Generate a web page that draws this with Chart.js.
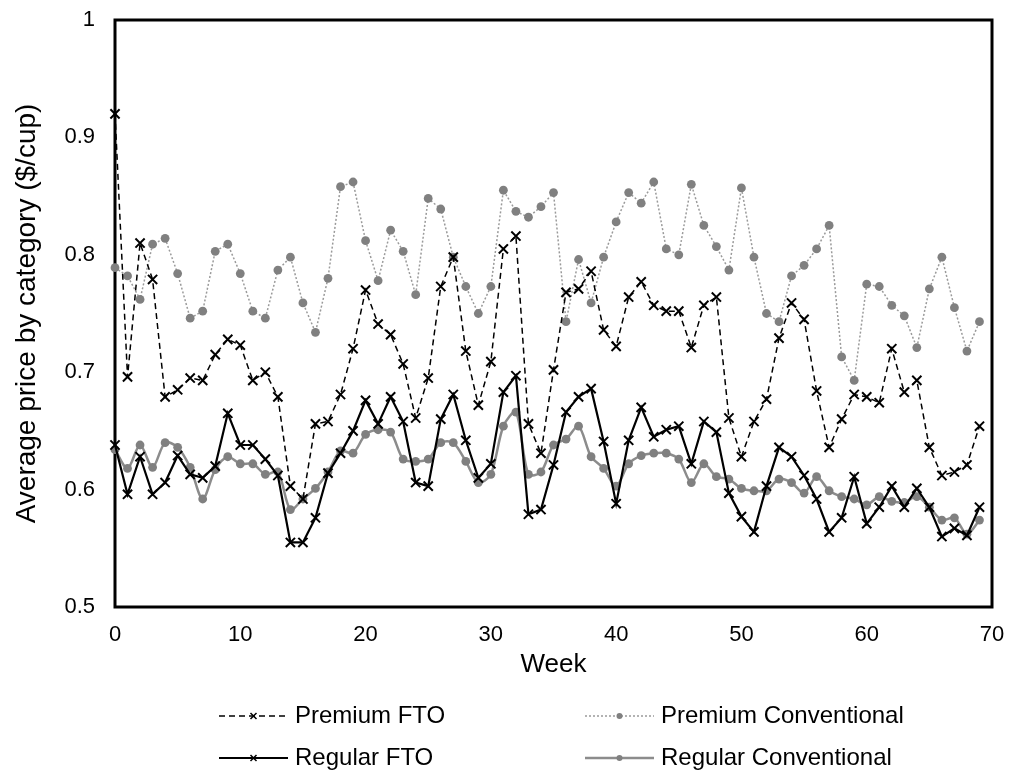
<!DOCTYPE html>
<html>
<head>
<meta charset="utf-8">
<script src="https://cdn.jsdelivr.net/npm/chart.js@4.4.1/dist/chart.umd.min.js"></script>
<style>
  body { margin: 0; background: #fff; }
</style>
</head>
<body>
<canvas id="priceChart" width="1011" height="770"></canvas>
<script>
// 週 (0〜69)
const weeks = [
    0, 1, 2, 3, 4, 5, 6, 7, 8, 9, 10, 11, 12, 13, 14, 15, 16, 17, 18, 19,
    20, 21, 22, 23, 24, 25, 26, 27, 28, 29, 30, 31, 32, 33, 34, 35, 36, 37, 38, 39,
    40, 41, 42, 43, 44, 45, 46, 47, 48, 49, 50, 51, 52, 53, 54, 55, 56, 57, 58, 59,
    60, 61, 62, 63, 64, 65, 66, 67, 68, 69
];

// 各カテゴリーの平均価格 ($/cup)
const premiumFTO = [
    0.920, 0.696, 0.810, 0.779, 0.679, 0.685, 0.695, 0.693, 0.715, 0.728,
    0.723, 0.693, 0.700, 0.679, 0.603, 0.592, 0.656, 0.658, 0.681, 0.720,
    0.770, 0.741, 0.732, 0.707, 0.661, 0.695, 0.773, 0.798, 0.718, 0.672,
    0.709, 0.805, 0.816, 0.656, 0.631, 0.702, 0.768, 0.771, 0.786, 0.736,
    0.722, 0.764, 0.777, 0.757, 0.752, 0.752, 0.721, 0.757, 0.764, 0.661,
    0.628, 0.658, 0.677, 0.729, 0.759, 0.745, 0.684, 0.636, 0.660, 0.681,
    0.679, 0.674, 0.720, 0.683, 0.693, 0.636, 0.612, 0.615, 0.621, 0.654
];
const premiumConventional = [
    0.789, 0.782, 0.762, 0.809, 0.814, 0.784, 0.746, 0.752, 0.803, 0.809,
    0.784, 0.752, 0.746, 0.787, 0.798, 0.759, 0.734, 0.780, 0.858, 0.862,
    0.812, 0.778, 0.821, 0.803, 0.766, 0.848, 0.839, 0.798, 0.773, 0.750,
    0.773, 0.855, 0.837, 0.832, 0.841, 0.853, 0.743, 0.796, 0.759, 0.798,
    0.828, 0.853, 0.844, 0.862, 0.805, 0.800, 0.860, 0.825, 0.807, 0.787,
    0.857, 0.798, 0.750, 0.743, 0.782, 0.791, 0.805, 0.825, 0.713, 0.693,
    0.775, 0.773, 0.757, 0.748, 0.721, 0.771, 0.798, 0.755, 0.718, 0.743
];
const regularFTO = [
    0.638, 0.596, 0.628, 0.596, 0.606, 0.629, 0.613, 0.610, 0.620, 0.665,
    0.638, 0.638, 0.626, 0.612, 0.555, 0.555, 0.576, 0.614, 0.631, 0.650,
    0.676, 0.656, 0.679, 0.658, 0.606, 0.603, 0.660, 0.681, 0.642, 0.610,
    0.622, 0.683, 0.697, 0.579, 0.583, 0.621, 0.666, 0.679, 0.686, 0.641,
    0.588, 0.642, 0.670, 0.645, 0.651, 0.654, 0.622, 0.658, 0.649, 0.597,
    0.577, 0.564, 0.603, 0.636, 0.628, 0.612, 0.592, 0.564, 0.576, 0.611,
    0.571, 0.585, 0.603, 0.585, 0.601, 0.585, 0.560, 0.567, 0.561, 0.585
];
const regularConventional = [
    0.634, 0.618, 0.638, 0.619, 0.640, 0.636, 0.619, 0.592, 0.617, 0.628,
    0.622, 0.622, 0.613, 0.615, 0.583, 0.592, 0.601, 0.615, 0.633, 0.631,
    0.647, 0.651, 0.649, 0.626, 0.624, 0.626, 0.640, 0.640, 0.624, 0.606,
    0.613, 0.654, 0.666, 0.613, 0.615, 0.638, 0.643, 0.654, 0.628, 0.618,
    0.603, 0.622, 0.629, 0.631, 0.631, 0.626, 0.606, 0.622, 0.611, 0.609,
    0.601, 0.599, 0.599, 0.609, 0.606, 0.597, 0.611, 0.599, 0.594, 0.592,
    0.587, 0.594, 0.590, 0.589, 0.594, 0.585, 0.574, 0.576, 0.562, 0.574
];

// 軸の設定
const xMin = 0, xMax = 70, xStep = 10;
const yMin = 0.5, yMax = 1, yStep = 0.1;

const FONT = "'Liberation Sans', Arial, sans-serif";
Chart.defaults.font.family = FONT;
Chart.defaults.color = '#000';

function toPoints(values) {
    return weeks.map((w, i) => ({ x: w, y: values[i] }));
}

// 系列ごとの線種とマーカー
const seriesStyles = [
    { label: 'Premium FTO', data: premiumFTO, color: '#000', pointColor: '#000', dash: [6, 4], width: 1.5, marker: 'cross', tension: 0 },
    { label: 'Premium Conventional', data: premiumConventional, color: '#9a9a9a', pointColor: '#808080', dash: [2, 2], width: 1.5, marker: 'circle', tension: 0 },
    { label: 'Regular FTO', data: regularFTO, color: '#000', pointColor: '#000', dash: [], width: 2.2, marker: 'cross', tension: 0 },
    { label: 'Regular Conventional', data: regularConventional, color: '#8c8c8c', pointColor: '#808080', dash: [], width: 2.5, marker: 'circle', tension: 0.3 }
];

const datasets = seriesStyles.map(s => ({
    label: s.label,
    data: toPoints(s.data),
    borderColor: s.color,
    borderWidth: s.width,
    borderDash: s.dash,
    tension: s.tension,
    pointStyle: s.marker === 'cross' ? 'crossRot' : 'circle',
    pointRadius: s.marker === 'cross' ? 6.5 : 4.4,
    pointBorderWidth: s.marker === 'cross' ? 2 : 0,
    pointBorderColor: s.pointColor,
    pointBackgroundColor: s.pointColor,
    clip: false
}));

// 枠線を描画するプラグイン
const framePlugin = {
    id: 'frame',
    beforeDatasetsDraw(chart) {
        const { ctx, chartArea } = chart;
        ctx.save();
        ctx.strokeStyle = '#000';
        ctx.lineWidth = 3;
        ctx.strokeRect(chartArea.left, chartArea.top, chartArea.right - chartArea.left, chartArea.bottom - chartArea.top);
        ctx.restore();
    }
};

// 2列の凡例を描画するプラグイン
const legendPlugin = {
    id: 'twoColumnLegend',
    afterDraw(chart) {
        const ctx = chart.ctx;
        const cols = [219, 585];
        const rows = [716, 758];
        const lineLen = 69;
        ctx.save();
        seriesStyles.forEach((s, i) => {
            const x = cols[i % 2];
            const y = rows[Math.floor(i / 2)];
            ctx.strokeStyle = s.color;
            ctx.lineWidth = s.width;
            ctx.setLineDash(s.dash);
            ctx.beginPath();
            ctx.moveTo(x, y);
            ctx.lineTo(x + lineLen, y);
            ctx.stroke();
            ctx.setLineDash([]);
            const mx = x + lineLen / 2;
            if (s.marker === 'cross') {
                ctx.strokeStyle = s.pointColor;
                ctx.lineWidth = 1.5;
                ctx.beginPath();
                ctx.moveTo(mx - 3, y - 3); ctx.lineTo(mx + 3, y + 3);
                ctx.moveTo(mx + 3, y - 3); ctx.lineTo(mx - 3, y + 3);
                ctx.stroke();
            } else {
                ctx.fillStyle = s.pointColor;
                ctx.beginPath();
                ctx.arc(mx, y, 3, 0, Math.PI * 2);
                ctx.fill();
            }
            ctx.fillStyle = '#000';
            ctx.font = '24px ' + FONT;
            ctx.textBaseline = 'middle';
            ctx.textAlign = 'left';
            ctx.fillText(s.label, x + lineLen + 7, y);
        });
        ctx.restore();
    }
};

new Chart(document.getElementById('priceChart').getContext('2d'), {
    type: 'line',
    data: { datasets: datasets },
    options: {
        responsive: false,
        animation: false,
        layout: { padding: { left: 0, right: 19, top: 20, bottom: 87 } },
        plugins: {
            legend: { display: false },
            tooltip: { enabled: false }
        },
        scales: {
            x: {
                type: 'linear',
                min: xMin,
                max: xMax,
                grid: { display: false, drawTicks: false },
                border: { display: false },
                ticks: { stepSize: xStep, padding: 15, font: { size: 22 }, maxRotation: 0 },
                title: { display: true, text: 'Week', font: { size: 26 }, padding: { top: 0, bottom: 3 } },
                afterFit(scale) {
                    scale.height = 76;
                    scale.paddingLeft = 0;
                    scale.paddingRight = 0;
                }
            },
            y: {
                min: yMin,
                max: yMax,
                grid: { display: false, drawTicks: false },
                border: { display: false },
                ticks: {
                    stepSize: yStep,
                    padding: 20,
                    font: { size: 22 },
                    callback: v => String(Math.round(v * 10) / 10)
                },
                title: { display: true, text: 'Average price by category ($/cup)', font: { size: 28 }, padding: { top: 10, bottom: 0 } },
                afterFit(scale) {
                    scale.width = 115;
                    scale.paddingTop = 0;
                    scale.paddingBottom = 0;
                }
            }
        }
    },
    plugins: [framePlugin, legendPlugin]
});
</script>
</body>
</html>
